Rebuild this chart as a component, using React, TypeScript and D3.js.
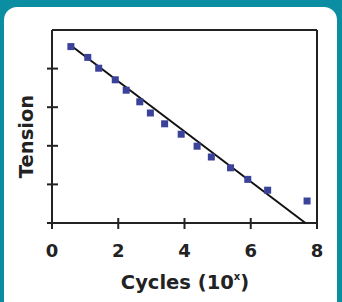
import React from "react";
import * as d3 from "d3";

const xs = [0.57, 1.08, 1.41, 1.91, 2.24, 2.65, 2.97, 3.4, 3.9, 4.38, 4.81, 5.39, 5.91, 6.51, 7.7];
const ys = [4.57, 4.29, 4.01, 3.71, 3.44, 3.14, 2.85, 2.57, 2.3, 1.99, 1.71, 1.43, 1.13, 0.85, 0.57];
const fitX = [0.57, 7.65];
const fitY = [4.6, 0];
const xTicks = [0, 2, 4, 6, 8];
const yTicks = [0, 1, 2, 3, 4];

export default function App() {
  const W = 342, H = 302;
  const left = 52, right = 317, top = 30, bottom = 223;
  const x = d3.scaleLinear().domain([0, 8]).range([left, right]);
  const y = d3.scaleLinear().domain([0, 5]).range([bottom, top]);
  const line = d3.line<number>().x((d) => x(fitX[d])).y((d) => y(fitY[d]));
  const font = "'DejaVu Sans', Verdana, sans-serif";
  const ink = "#222";
  return (
    <svg width={W} height={H} style={{ position: "absolute", left: 0, top: 0 }}>
      <rect x={0} y={0} width={W} height={H} fill="#0b8ea1" />
      <rect x={4} y={7} width={333} height={320} rx={13} fill="#ffffff" />
      {/* frame */}
      <line x1={left} x2={right} y1={top} y2={top} stroke={ink} strokeWidth={2} />
      <line x1={right} x2={right} y1={top} y2={bottom} stroke={ink} strokeWidth={2} />
      <line x1={left} x2={left} y1={top} y2={bottom + 4} stroke={ink} strokeWidth={2} />
      <line x1={left - 4} x2={right + 1} y1={bottom} y2={bottom} stroke={ink} strokeWidth={2} />
      {yTicks.map((t) => (
        <line key={"yt" + t} x1={left - 5} x2={left + 6} y1={y(t)} y2={y(t)} stroke={ink} strokeWidth={2} />
      ))}
      {xTicks.map((t) => (
        <g key={"xt" + t}>
          <line x1={x(t)} x2={x(t)} y1={bottom - 5} y2={bottom + 6} stroke={ink} strokeWidth={2} />
          <text x={x(t)} y={257} textAnchor="middle" fontFamily={font} fontWeight="bold" fontSize={18} fill={ink}>
            {t}
          </text>
        </g>
      ))}
      <path d={line([0, 1]) || ""} stroke="#111" strokeWidth={2} fill="none" />
      {xs.map((v, i) => (
        <rect key={"p" + i} x={x(v) - 3.5} y={y(ys[i]) - 3.5} width={7} height={7} fill="#3b4299" />
      ))}
      <text
        transform={`translate(33,136.5) rotate(-90)`}
        textAnchor="middle"
        fontFamily={font}
        fontWeight="bold"
        fontSize={19.5}
        fill={ink}
      >
        Tension
      </text>
      <text x={185} y={289} textAnchor="middle" fontFamily={font} fontWeight="bold" fontSize={19.5} fill={ink}>
        Cycles (10
        <tspan fontSize={10} dy={-9}>x</tspan>
        <tspan dy={9}>)</tspan>
      </text>
    </svg>
  );
}
